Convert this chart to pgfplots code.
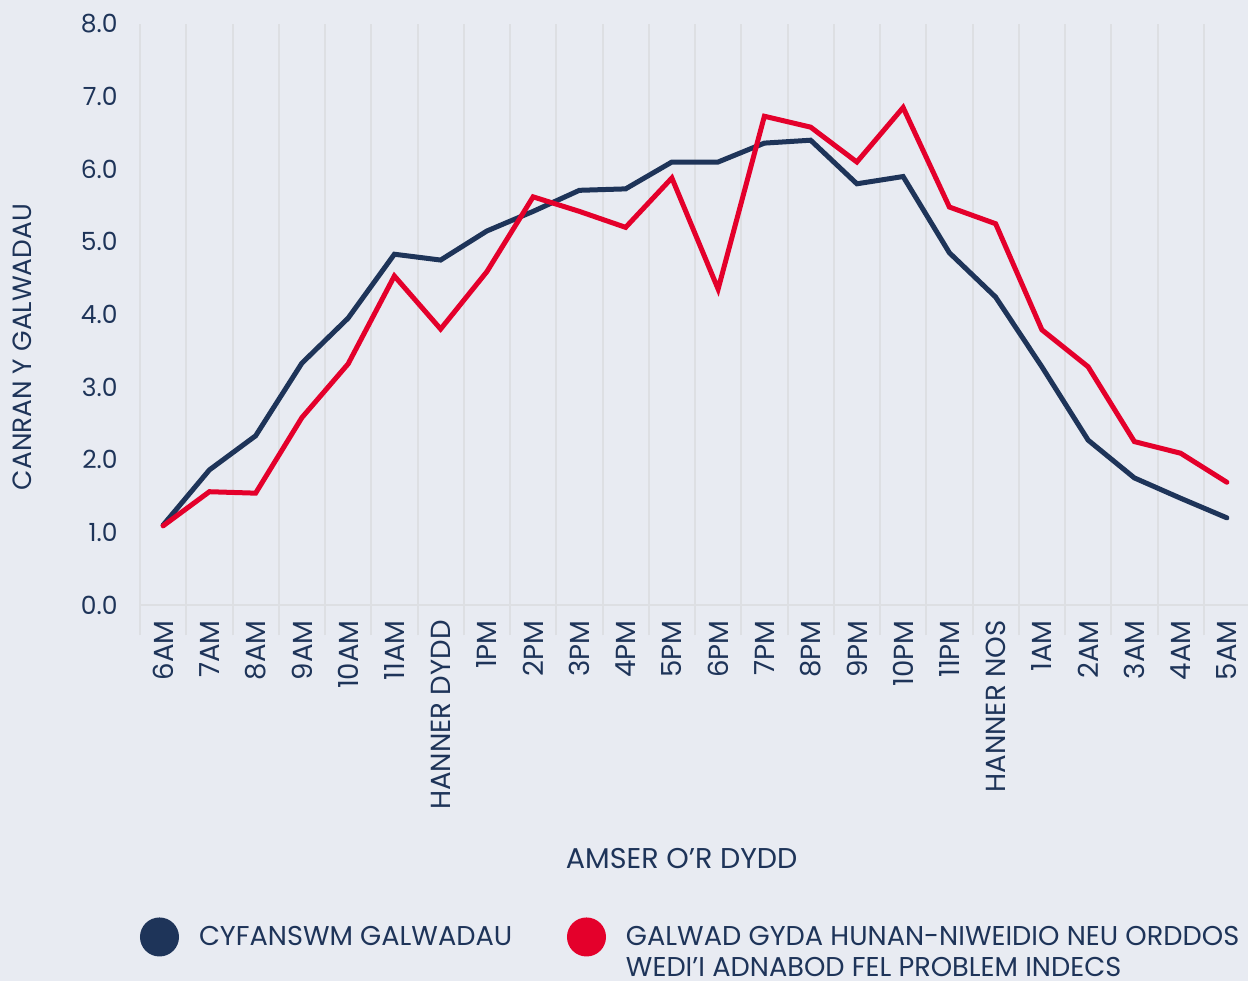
\documentclass[border=0pt]{standalone}
\usepackage{fontspec}
\setmainfont{Poppins}
\usepackage{pgfplots}
\pgfplotsset{compat=1.18}
\definecolor{bg}{HTML}{E8EBF2}
\definecolor{gridc}{HTML}{DDDFE3}
\definecolor{navy}{HTML}{1E3459}
\definecolor{redc}{HTML}{E4002B}
\begin{document}
\begin{tikzpicture}
\useasboundingbox (0pt,0pt) rectangle (624pt,490.5pt);
\fill[bg] (0pt,0pt) rectangle (624pt,490.5pt);
\clip (0pt,0pt) rectangle (624pt,490.5pt);
\begin{axis}[
  at={(70pt,188pt)}, anchor=south west,
  scale only axis, width=555pt, height=290.5pt,
  xmin=-0.5, xmax=23.5, ymin=0, ymax=8,
  axis line style={draw=none},
  /pgf/number format/assume math mode=true,
  xtick={0,...,23},
  xticklabels={6AM,7AM,8AM,9AM,10AM,11AM,HANNER DYDD,1PM,2PM,3PM,4PM,5PM,6PM,7PM,8PM,9PM,10PM,11PM,HANNER NOS,1AM,2AM,3AM,4AM,5AM},
  minor xtick={-0.5,0.5,...,23.5},
  xminorgrids=true,
  minor x grid style={gridc, line width=1pt},
  every minor tick/.append style={gridc, line width=1pt},
  major tick length=0pt, minor tick length=15pt, tick align=outside,
  xtick pos=bottom, ytick pos=left,
  ytick={0,...,8},
  yticklabel={\pgfmathprintnumber[fixed,fixed zerofill,precision=1]{\tick}},
  yticklabel style={anchor=east, inner sep=0pt, xshift=-11pt, text=navy, font=\fontsize{12.5}{14}\selectfont},
  xticklabel style={rotate=90, anchor=east, inner sep=0pt, text=navy, font=\fontsize{13.8}{15}\selectfont},
  xticklabel shift=7.5pt,
  extra y ticks={0}, extra y tick labels={},
  extra y tick style={ymajorgrids=true, major grid style={gridc, line width=1pt}},
  ylabel={CANRAN Y GALWADAU},
  ylabel style={at={(rel axis cs:-0.1063,0.444)}, anchor=center, rotate=0, text=navy, font=\fontsize{13.2}{15}\selectfont},
  xlabel={AMSER O’R DYDD},
  xlabel style={at={(rel axis cs:0.488,-0.437)}, anchor=center, text=navy, font=\fontsize{14.3}{16}\selectfont},
  legend columns=2,
  legend image code/.code={\fill[#1] (8.5pt,0pt) circle (8.5pt);},
  legend style={at={(rel axis cs:0,-0.5714)}, anchor=west, draw=none, fill=none, inner sep=0pt, outer sep=0pt,
    nodes={inner sep=0pt, outer sep=0pt, text=navy, font=\fontsize{13.6}{15.5}\selectfont},
    cells={anchor=west},
    /tikz/every odd column/.append style={column sep=10pt}},
]
\addplot[navy, line width=2.5pt, line cap=round, line join=miter, mark=none] coordinates {
(0,1.10) (1,1.86) (2,2.33) (3,3.33) (4,3.95) (5,4.83) (6,4.75) (7,5.15) (8,5.42) (9,5.71) (10,5.73) (11,6.10)
(12,6.10) (13,6.36) (14,6.40) (15,5.80) (16,5.90) (17,4.85) (18,4.24) (19,3.28) (20,2.27) (21,1.75) (22,1.47) (23,1.20)};
\addlegendentry{\makebox[184pt][l]{\smash{\raisebox{-0.36em}{CYFANSWM GALWADAU}}}}
\addplot[redc, line width=2.5pt, line cap=round, line join=miter, mark=none] coordinates {
(0,1.09) (1,1.56) (2,1.54) (3,2.58) (4,3.32) (5,4.53) (6,3.80) (7,4.59) (8,5.62) (9,5.42) (10,5.20) (11,5.88)
(12,4.35) (13,6.73) (14,6.58) (15,6.10) (16,6.85) (17,5.48) (18,5.25) (19,3.79) (20,3.28) (21,2.25) (22,2.09) (23,1.69)};
\addlegendentry{\smash{\raisebox{-0.36em}{\begin{tabular}[t]{@{}l@{}}GALWAD GYDA HUNAN-NIWEIDIO NEU ORDDOS\\WEDI’I ADNABOD FEL PROBLEM INDECS\end{tabular}}}}
\end{axis}
\end{tikzpicture}
\end{document}
